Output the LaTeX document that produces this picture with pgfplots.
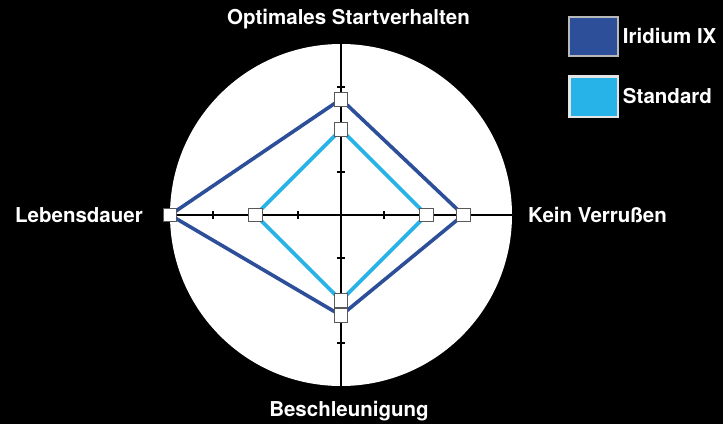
\documentclass[border=0pt]{standalone}
\usepackage{fontspec}
\setmainfont{TeX Gyre Heros}
\usepackage{pgfplots}
\pgfplotsset{compat=1.18}
\definecolor{iridium}{HTML}{2D4F9A}
\definecolor{standard}{HTML}{27B2E8}

\begin{document}
\begin{tikzpicture}[x=1pt,y=1pt]
  % background and white disc
  \fill[black] (0,0) rectangle (723,424);
  \fill[white] (341,209) circle (171);
  \begin{axis}[
    at={(341pt,209pt)}, anchor=center,
    scale only axis, width=342pt, height=342pt,
    xmin=-4, xmax=4, ymin=-4, ymax=4,
    axis lines=center,
    axis line style={-, black, line width=1.8pt},
    xtick={-3,-1,1,3}, ytick={-3,-1,1,3},
    xticklabels={}, yticklabels={},
    tick align=center, major tick length=8pt,
    tick style={black, line width=1.8pt},
    clip=false,
    line join=miter,
    mark size=6.8pt,
    legend style={draw=none, fill=none, inner sep=0pt, row sep=18pt,
      at={(axis description cs:1.1637,1.0819)}, anchor=north west,
      nodes={inner sep=0pt, text=white, font=\fontsize{20.5}{24}\selectfont\bfseries}},
    legend cell align=left,
  ]
    \addplot[iridium, line width=3.6pt,
      mark=square*, mark options={fill=white, draw=black!65, line width=0.8pt},
      legend image code/.code={\draw[fill=iridium, draw=gray!55, line width=2pt]
        (1pt,-19.5pt) rectangle (50pt,19.5pt); \path (53pt,0pt);}]
      coordinates {(0,2.71) (2.86,0) (0,-2.35) (-4,0) (0,2.71)};
    \addlegendentry{Iridium IX}
    \addplot[standard, line width=3.6pt,
      mark=square*, mark options={fill=white, draw=black!65, line width=0.8pt},
      legend image code/.code={\draw[fill=standard, draw=gray!20, line width=2.5pt]
        (1.25pt,-20.25pt) rectangle (49.75pt,20.25pt); \path (53pt,0pt);}]
      coordinates {(0,2.0) (2.0,0) (0,-2.0) (-2.0,0) (0,2.0)};
    \addlegendentry{Standard}
  \end{axis}
  \begin{scope}[every node/.style={text=white, inner sep=0pt,
      font=\fontsize{20.5}{24}\selectfont\bfseries}]
    \node[anchor=base] at (348.5,399) {Optimales Startverhalten};
    \node[anchor=base] at (349,7.3) {Beschleunigung};
    \node[anchor=base west] at (15,202) {Lebensdauer};
    \node[anchor=base west] at (528,202) {Kein Verrußen};
  \end{scope}
\end{tikzpicture}
\end{document}
